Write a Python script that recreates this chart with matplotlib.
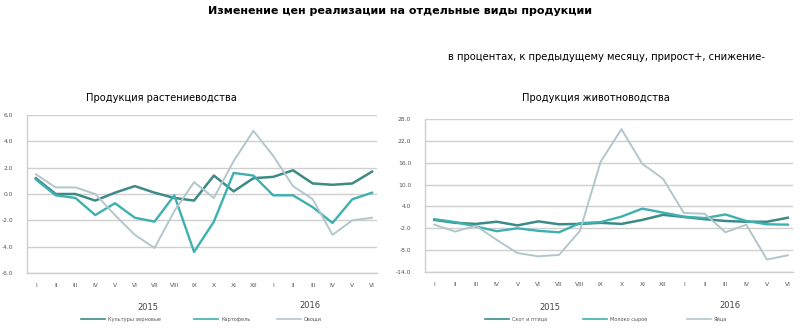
import matplotlib.pyplot as plt

months = ['I', 'II', 'III', 'IV', 'V', 'VI', 'VII', 'VIII', 'IX', 'X', 'XI', 'XII',
          'I', 'II', 'III', 'IV', 'V', 'VI']

# растениеводство
zernovye = [1.2, 0.0, 0.0, -0.5, 0.1, 0.6, 0.1, -0.3, -0.5, 1.4, 0.2, 1.2,
            1.3, 1.8, 0.8, 0.7, 0.8, 1.7]
kartofel = [1.1, -0.1, -0.3, -1.6, -0.7, -1.8, -2.1, -0.1, -4.4, -2.1, 1.6, 1.4,
            -0.1, -0.1, -1.0, -2.2, -0.4, 0.1]
ovoshchi = [1.5, 0.5, 0.5, 0.0, -1.6, -3.1, -4.1, -1.3, 0.9, -0.3, 2.5, 4.8,
            2.9, 0.6, -0.4, -3.1, -2.0, -1.8]

# животноводство
skot = [0.3, -0.5, -0.8, -0.2, -1.2, -0.1, -0.9, -0.8, -0.5, -0.8, 0.3, 1.7,
        1.1, 0.5, 0.0, -0.2, -0.2, 0.9]
moloko = [0.5, -0.3, -1.5, -2.8, -2.0, -2.7, -3.1, -0.6, -0.3, 1.2, 3.4, 2.3,
          1.2, 0.8, 1.8, 0.0, -0.9, -1.0]
yaitsa = [-1.0, -2.9, -1.3, -5.2, -8.8, -9.7, -9.3, -2.7, 16.3, 25.2, 15.7, 11.6,
          2.2, 2.0, -3.1, -1.0, -10.6, -9.4]

left_ticks = [-6.0, -4.0, -2.0, 0.0, 2.0, 4.0, 6.0]
right_ticks = [-14.0, -8.0, -2.0, 4.0, 10.0, 16.0, 22.0, 28.0]

c_dark = '#3d8a87'
c_mid = '#3fb0b0'
c_light = '#b3c6cc'
grid_c = '#cfcfcf'
txt_c = '#555555'

fig = plt.figure(figsize=(8, 3.3), dpi=100)

fig.text(0.5, 0.968, 'Изменение цен реализации на отдельные виды продукции',
         ha='center', va='center', fontsize=8.0, weight='bold')
fig.text(606 / 800, 0.827, 'в процентах, к предыдущему месяцу, прирост+, снижение-',
         ha='center', va='center', fontsize=7.2)


def draw_panel(rect, series, labels, ticks, title, title_x, years_x, legend_x):
    ax = fig.add_axes(rect)
    x = list(range(len(months)))
    colors = [c_dark, c_mid, c_light]
    widths = [1.8, 1.7, 1.4]
    for vals, col, lw in zip(series, colors, widths):
        ax.plot(x, vals, color=col, linewidth=lw)
    ax.set_ylim(ticks[0], ticks[-1])
    ax.set_xlim(-0.45, len(months) - 1 + 0.25)
    ax.set_yticks(ticks)
    ax.set_yticklabels(['%.1f' % t for t in ticks], fontsize=4.3, color=txt_c)
    ax.set_xticks(x)
    ax.set_xticklabels(months, fontsize=4.3, color=txt_c)
    ax.tick_params(length=0, pad=7)
    ax.tick_params(axis='y', pad=10)
    ax.yaxis.grid(True, color=grid_c, linewidth=1.0)
    ax.set_axisbelow(True)
    for s in ['top', 'right']:
        ax.spines[s].set_visible(False)
    for s in ['left', 'bottom']:
        ax.spines[s].set_color(grid_c)
        ax.spines[s].set_linewidth(1.0)

    fig.text(title_x, 0.703, title, ha='center', va='center', fontsize=7.1)
    for yx, yr, yy in zip(years_x, ['2015', '2016'], [0.068, 0.075]):
        fig.text(yx, yy, yr, ha='center', va='center', fontsize=6, color='#444444')

    # легенда
    for lx, lab, col in zip(legend_x, labels, colors):
        fig.add_artist(plt.Line2D([lx / 800, (lx + 24) / 800], [0.033, 0.033],
                                  color=col, linewidth=1.2))
        fig.text((lx + 27) / 800, 0.033, lab, ha='left', va='center',
                 fontsize=3.6, color=txt_c)
    return ax


draw_panel([27 / 800, 1 - 273 / 330, 350 / 800, 158 / 330],
           [zernovye, kartofel, ovoshchi],
           ['Культуры зерновые', 'Картофель', 'Овощи'],
           left_ticks, 'Продукция растениеводства', 161 / 800,
           [148 / 800, 310 / 800], [81, 194, 277])

draw_panel([425 / 800, 1 - 272 / 330, 368 / 800, 153 / 330],
           [skot, moloko, yaitsa],
           ['Скот и птица', 'Молоко сырое', 'Яйца'],
           right_ticks, 'Продукция животноводства', 596 / 800,
           [550 / 800, 730 / 800], [485, 583, 687])

plt.savefig('out.png', dpi=100)
